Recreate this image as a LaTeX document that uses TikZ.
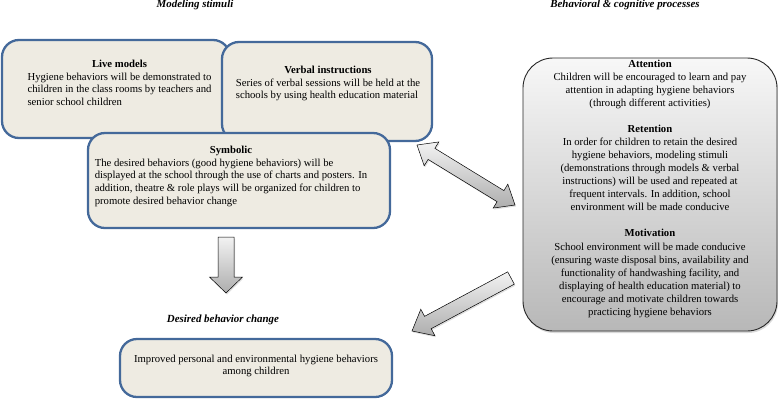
\documentclass[tikz,border=0pt]{standalone}
\usepackage{fontspec}
\setmainfont{Liberation Serif}
\usetikzlibrary{calc,shadows}
\definecolor{bbord}{HTML}{44699A}
\definecolor{bfill}{HTML}{EEEBE2}
\tikzset{
 bluebox/.style={draw=bbord, line width=2.3pt, fill=bfill, rounded corners=17pt, inner sep=0pt},
 txt/.style={inner sep=0pt, font=\fontsize{10.7}{12.8}\selectfont},
 heading/.style={inner sep=0pt, font=\fontsize{10.9}{12}\selectfont\bfseries\itshape},
 blockarr/.style={draw=black, line width=0.5pt, top color=black!5, bottom color=black!32,
   drop shadow={opacity=0.25,shadow xshift=1pt,shadow yshift=-1.5pt}},
 procbox/.style={draw=black!85, line width=0.9pt, rounded corners=30pt, inner sep=0pt,
   top color=black!3, bottom color=black!28,
   drop shadow={opacity=0.3,shadow xshift=1pt,shadow yshift=-2pt}},
}
\newcommand{\blkarrow}[5]{%
 \coordinate (tmpC) at ($(#2)!#5!(#1)$);
 \path[blockarr] ($(#1)!#3!90:(#2)$) -- ($(tmpC)!#3!90:(#2)$) -- ($(tmpC)!#4!90:(#2)$) -- (#2)
   -- ($(tmpC)!#4!-90:(#2)$) -- ($(tmpC)!#3!-90:(#2)$) -- ($(#1)!#3!-90:(#2)$) -- cycle;}
\newcommand{\dblarrow}[5]{%
 \coordinate (tmpC) at ($(#1)!#5!(#2)$);
 \coordinate (tmpD) at ($(#2)!#5!(#1)$);
 \path[blockarr] (#1) -- ($(tmpC)!#4!90:(#2)$) -- ($(tmpC)!#3!90:(#2)$) -- ($(tmpD)!#3!90:(#2)$)
   -- ($(tmpD)!#4!90:(#2)$) -- (#2) -- ($(tmpD)!#4!-90:(#2)$) -- ($(tmpD)!#3!-90:(#2)$)
   -- ($(tmpC)!#3!-90:(#2)$) -- ($(tmpC)!#4!-90:(#2)$) -- cycle;}
\begin{document}
\begin{tikzpicture}[x=1pt,y=-1pt]
\useasboundingbox (0,0) rectangle (778,405);
% headings
\node[heading] (hms) at (195,5) {Modeling stimuli};
\node[heading] (hbc) at (625,5) {Behavioral \& cognitive processes};
% modeling stimuli boxes
\node[bluebox, minimum width=228pt, minimum height=98pt] (live) at (116,89) {};
\node[txt] (livet) at (119.5,84) {\begin{tabular}{@{}l@{}}\multicolumn{1}{@{}c@{}}{\textbf{Live models}}\\
Hygiene behaviors will be demonstrated to\\
children in the class rooms by teachers and\\
senior school children\end{tabular}};
\node[bluebox, minimum width=210pt, minimum height=99pt] (verb) at (327,91.5) {};
\node[txt] (verbt) at (328,83.5) {\begin{tabular}{@{}l@{}}\multicolumn{1}{@{}c@{}}{\textbf{Verbal instructions}}\\
Series of verbal sessions will be held at the\\
schools by using health education material\end{tabular}};
\node[bluebox, minimum width=302pt, minimum height=95pt] (symb) at (239,180.5) {};
\node[txt] (symbt) at (231,176.3) {\begin{tabular}{@{}l@{}}\multicolumn{1}{@{}c@{}}{\textbf{Symbolic}}\\
The desired behaviors (good hygiene behaviors) will be\\
displayed at the school through the use of charts and posters. In\\
addition, theatre \& role plays will be organized for children to\\
promote desired behavior change\end{tabular}};
% processes box
\node[procbox, minimum width=254pt, minimum height=273pt] (proc) at (650,194.5) {};
\node[txt, font=\fontsize{10.7}{13.05}\selectfont] (proct) at (650,188.7) {\begin{tabular}{@{}c@{}}
\textbf{Attention}\\
Children will be encouraged to learn and pay\\
attention in adapting hygiene behaviors\\
(through different activities)\\
\\
\textbf{Retention}\\
In order for children to retain the desired\\
hygiene behaviors, modeling stimuli\\
(demonstrations through models \& verbal\\
instructions) will be used and repeated at\\
frequent intervals. In addition, school\\
environment will be made conducive\\
\\
\textbf{Motivation}\\
School environment will be made conducive\\
(ensuring waste disposal bins, availability and\\
functionality of handwashing facility, and\\
displaying of health education material) to\\
encourage and motivate children towards\\
practicing hygiene behaviors\end{tabular}};
% outcome
\node[heading] (hdb) at (223,320) {Desired behavior change};
\node[bluebox, minimum width=272pt, minimum height=58pt] (out) at (256,368) {};
\node[txt] (outt) at (256,366) {\begin{tabular}{@{}c@{}}Improved personal and environmental hygiene behaviors\\
among children\end{tabular}};
% block arrows
\coordinate (d1) at (226,237);
\coordinate (d2) at (226,293);
\coordinate (x1) at (417,145);
\coordinate (x2) at (515,205);
\coordinate (m1) at (511,278);
\coordinate (m2) at (412,331);
\blkarrow{d1}{d2}{8pt}{16.5pt}{16pt}
\dblarrow{x1}{x2}{6.5pt}{14pt}{17pt}
\blkarrow{m1}{m2}{7pt}{15pt}{18pt}
\end{tikzpicture}
\end{document}
